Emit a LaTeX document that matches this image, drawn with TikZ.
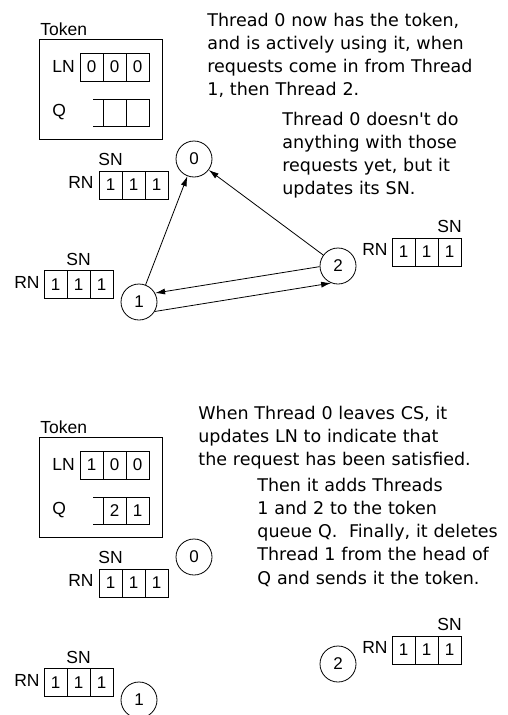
\documentclass[tikz,border=0pt]{standalone}
\usepackage{fontspec}
\usepackage{tikz}
\usetikzlibrary{arrows.meta, positioning}
\newfontfamily\lblfont{Liberation Sans}
\newfontfamily\prosefont{DejaVu Sans}

\begin{document}
\begin{tikzpicture} [x=1pt, y=-1pt, line width=0.8pt,
    lbl/.style={font=\lblfont\fontsize{17.5}{20}\selectfont, inner sep=0pt},
    cell/.style={draw, minimum width=23pt, minimum height=28pt, inner sep=0pt, outer sep=0pt,
        font=\lblfont\fontsize{17}{20}\selectfont},
    thread/.style={circle, draw, minimum size=36pt, inner sep=0pt,
        font=\lblfont\fontsize{17}{20}\selectfont},
    note/.style={anchor=base west, text width=300pt, align=left, inner sep=0pt,
        font=\prosefont\fontsize{17.5}{23.3}\selectfont},
    req/.style={-{Latex[length=10pt, width=6pt]}}]
\useasboundingbox (0,0) rectangle (507,715);

% the two snapshots share the same layout
\foreach \p/\dy/\la/\qa/\qb in {a/0/0/\phantom{0}/\phantom{0}, b/398/1/2/1} {
  \node (tok\p) [lbl, anchor=west] at (40,29+\dy) {Token};
  \node (box\p) [draw, minimum width=123pt, minimum height=100pt] at (100.5,89+\dy) {};
  \node (lnA\p) [cell] at (91.5,67+\dy) {\la};
  \node (lnB\p) [cell, right=0pt of lnA\p] {0};
  \node (lnC\p) [cell, right=0pt of lnB\p] {0};
  \node (lnL\p) [lbl, anchor=west] at (52,66+\dy) {LN};
  \node (qA\p) [cell, minimum height=27pt] at (114.5,112.5+\dy) {\qa};
  \node (qB\p) [cell, minimum height=27pt, right=0pt of qA\p] {\qb};
  \node (qL\p) [lbl, anchor=west] at (52,112+\dy) {Q};
  \draw (qA\p.north west) -- ++(-10,0) (qA\p.south west) -- ++(-10,0);

  \node (t0\p) [thread] at (194,159+\dy) {0};
  \node (t1\p) [thread] at (139,302+\dy) {1};
  \node (t2\p) [thread] at (338,266+\dy) {2};

  \node (rnA0\p) [cell] at (110.5,185+\dy) {1};
  \node (rnB0\p) [cell, right=0pt of rnA0\p] {1};
  \node (rnC0\p) [cell, right=0pt of rnB0\p] {1};
  \node (rnL0\p) [lbl, left=5pt of rnA0\p, yshift=2.5pt] {RN};
  \node (sn0\p) [lbl, above=4.5pt of rnA0\p] {SN};

  \node (rnA1\p) [cell] at (55.5,284.5+\dy) {1};
  \node (rnB1\p) [cell, right=0pt of rnA1\p] {1};
  \node (rnC1\p) [cell, right=0pt of rnB1\p] {1};
  \node (rnL1\p) [lbl, left=4pt of rnA1\p, yshift=2.5pt] {RN};
  \node (sn1\p) [lbl, above=4.5pt of rnB1\p] {SN};

  \node (rnA2\p) [cell] at (403.5,252+\dy) {1};
  \node (rnB2\p) [cell, right=0pt of rnA2\p] {1};
  \node (rnC2\p) [cell, right=0pt of rnB2\p] {1};
  \node (rnL2\p) [lbl, left=4pt of rnA2\p, yshift=2.5pt] {RN};
  \node (sn2\p) [lbl, above=4.5pt of rnC2\p] {SN};
}

% requests while thread 0 holds the token
\path [req]
    (t1a) edge (t0a)
    (t2a) edge (t0a)
    (t2a.182) edge (t1a.29)
    (t1a.329) edge (t2a.248);

\node (noteA) [note] at (207,26) {Thread 0 now has the token,\\
  and is actively using it, when\\ requests come in from Thread\\ 1, then Thread 2.};
\node (noteB) [note] at (282,125) {Thread 0 doesn\textquotesingle t do\\
  anything with those\\ requests yet, but it\\ updates its SN.};
\node (noteC) [note] at (198,419) {When Thread 0 leaves CS, it\\
  updates LN to indicate that\\ the request has been satisfied.};
\node (noteD) [note] at (257,491) {Then it adds Threads\\ 1 and 2 to the token\\
  queue Q.\ \ Finally, it deletes\\ Thread 1 from the head of\\ Q and sends it the token.};
\end{tikzpicture}
\end{document}
